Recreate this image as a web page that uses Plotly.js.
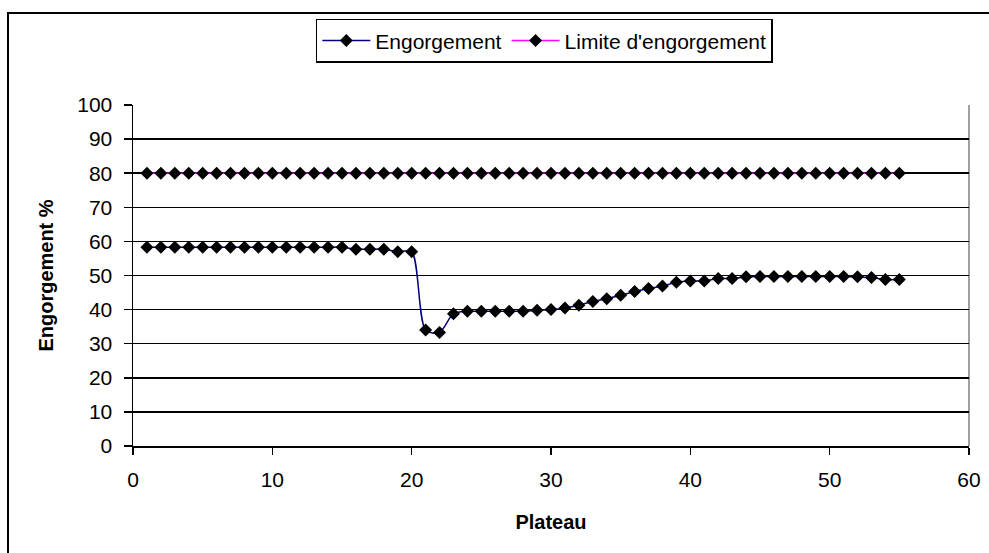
<!DOCTYPE html>
<html>
<head>
<meta charset="utf-8">
<script src="https://cdn.plot.ly/plotly-3.0.1.min.js"></script>
<style>
  html, body { margin: 0; padding: 0; background: #fff; }
  #wrap { position: relative; width: 989px; height: 553px; overflow: hidden; }
  #chart { position: absolute; left: 0; top: 0; width: 989px; height: 553px; }
  #frame { position: absolute; left: 7px; top: 12px; width: 1100px; height: 700px;
           border: 2px solid #000; pointer-events: none; box-sizing: border-box; }
</style>
</head>
<body>
<div id="wrap">
  <div id="chart"></div>
  <div id="frame"></div>
</div>
<script>
const plateaux = [];
for (let i = 1; i <= 55; i++) plateaux.push(i);

const engorgement = [
  58.3, 58.3, 58.3, 58.3, 58.3, 58.3, 58.3, 58.3, 58.3, 58.3,
  58.3, 58.3, 58.3, 58.3, 58.3, 57.7, 57.7, 57.7, 57.0, 57.0,
  34.0, 33.3, 38.8, 39.5, 39.5, 39.5, 39.5, 39.5, 39.8, 40.0,
  40.5, 41.3, 42.4, 43.2, 44.2, 45.3, 46.2, 46.9, 48.0, 48.4,
  48.4, 49.1, 49.1, 49.6, 49.7, 49.7, 49.7, 49.7, 49.7, 49.7,
  49.7, 49.6, 49.4, 48.8, 48.8
];

const limite = [
  80, 80, 80, 80, 80, 80, 80, 80, 80, 80,
  80, 80, 80, 80, 80, 80, 80, 80, 80, 80,
  80, 80, 80, 80, 80, 80, 80, 80, 80, 80,
  80, 80, 80, 80, 80, 80, 80, 80, 80, 80,
  80, 80, 80, 80, 80, 80, 80, 80, 80, 80,
  80, 80, 80, 80, 80
];

const xTicks = [0, 10, 20, 30, 40, 50, 60];
const yTicks = [0, 10, 20, 30, 40, 50, 60, 70, 80, 90, 100];

const font = "Liberation Sans, Arial, sans-serif";
const fs = 20;
const tfs = 21;

const traces = [
  {
    x: plateaux, y: engorgement, name: "Engorgement",
    type: "scatter", mode: "lines+markers",
    line: { color: "#000080", width: 1.5, shape: "spline", smoothing: 0.8 },
    marker: { symbol: "diamond", size: 10, color: "#000000" }
  },
  {
    x: plateaux, y: limite, name: "Limite d'engorgement",
    type: "scatter", mode: "lines+markers",
    line: { color: "#FF00FF", width: 1.5 },
    marker: { symbol: "diamond", size: 10, color: "#000000" }
  }
];

const layout = {
  width: 989, height: 553,
  paper_bgcolor: "#ffffff", plot_bgcolor: "#ffffff",
  margin: { l: 133, r: 20, t: 105, b: 107 },
  font: { family: font, size: fs, color: "#000" },
  showlegend: true,
  legend: {
    orientation: "h", x: 0.492, xanchor: "center", y: 0.966, yref: "container", yanchor: "top",
    bordercolor: "#000", borderwidth: 1.5, bgcolor: "#fff",
    font: { family: font, size: tfs, color: "#000" },
    traceorder: "normal", itemwidth: 48, tracegroupgap: 0
  },
  xaxis: {
    range: [0, 60], tickvals: xTicks, ticktext: xTicks.map(String),
    showgrid: false, zeroline: false,
    showline: true, linecolor: "#000", linewidth: 1.5,
    ticks: "outside", ticklen: 7, tickcolor: "#000", tickwidth: 1.5,
    ticklabelstandoff: 7,
    tickfont: { family: font, size: tfs, color: "#000" },
    title: { text: "<b>Plateau</b>", font: { family: font, size: fs, color: "#000" }, standoff: 25 }
  },
  yaxis: {
    range: [0, 100], tickvals: yTicks, ticktext: yTicks.map(String),
    showgrid: true, gridcolor: "#000", gridwidth: 1.5, zeroline: false,
    showline: true, linecolor: "#000", linewidth: 1.5,
    ticks: "outside", ticklen: 8, tickcolor: "#000", tickwidth: 1.5,
    ticklabelstandoff: 7,
    tickfont: { family: font, size: tfs, color: "#000" },
    title: { text: "<b>Engorgement %</b>", font: { family: font, size: fs, color: "#000" }, standoff: 18 }
  },
  shapes: [
    { type: "line", xref: "paper", yref: "paper", x0: 1, x1: 1, y0: 0, y1: 1,
      line: { color: "#808080", width: 1.5 }, layer: "below" }
  ]
};

Plotly.newPlot("chart", traces, layout, { displayModeBar: false, staticPlot: true });
</script>
</body>
</html>
